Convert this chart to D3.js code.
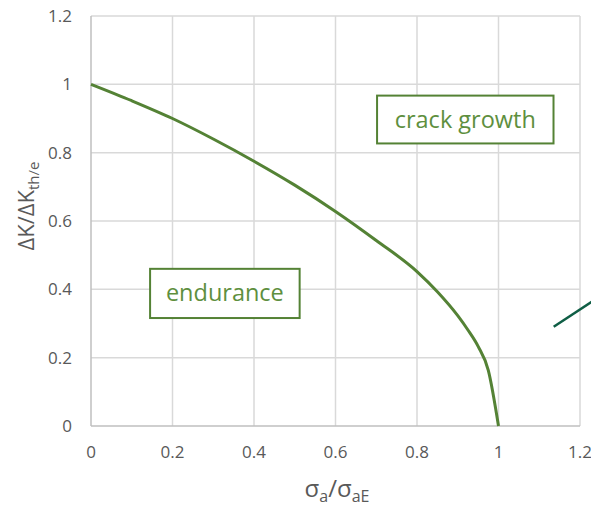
<!DOCTYPE html>
<html>
<head>
<meta charset="utf-8">
<script src="https://cdn.jsdelivr.net/npm/d3@7"></script>
<style>
  html, body { margin: 0; padding: 0; background: #ffffff; }
  svg { display: block; }
  text { font-family: "Open Sans", "Noto Sans", sans-serif; }
</style>
</head>
<body>
<svg id="chart" width="591" height="507"></svg>
<script>
// Normalised threshold curve: stress amplitude ratio vs. threshold ratio
const sigmaRatio = [0, 0.1, 0.2, 0.3, 0.4, 0.5, 0.6, 0.7, 0.8, 0.85, 0.9, 0.925, 0.95, 0.975, 1.0];
const deltaKRatio = [1.0, 0.952, 0.9, 0.84, 0.775, 0.705, 0.628, 0.543, 0.452, 0.393, 0.323, 0.281, 0.233, 0.163, 0.0];

// Axis ticks
const xTicks = [0, 0.2, 0.4, 0.6, 0.8, 1, 1.2];
const yTicks = [0, 0.2, 0.4, 0.6, 0.8, 1, 1.2];

// Region labels with their frame extents (data units)
const regionLabels = ["endurance", "crack growth"];
const regionX0 = [0.145, 0.702];
const regionX1 = [0.512, 1.135];
const regionY0 = [0.316, 0.827];
const regionY1 = [0.46, 0.967];

// Leader line partially visible at the right edge (data units)
const leaderX = [1.1355, 1.26];
const leaderY = [0.2906, 0.388];

const svg = d3.select("#chart");
const W = 591, H = 507;
const margin = { left: 91, right: 11, top: 16, bottom: 81 };

const x = d3.scaleLinear().domain([0, 1.2]).range([margin.left, W - margin.right]);
const y = d3.scaleLinear().domain([0, 1.2]).range([H - margin.bottom, margin.top]);

const green = "#548235";
const gridColor = "#d9d9d9";
const tickColor = "#595959";

// Gridlines
const grid = svg.append("g");
grid.selectAll("line.v").data(xTicks.filter(d => d > 0)).join("line")
  .attr("x1", d => x(d)).attr("x2", d => x(d))
  .attr("y1", y(0)).attr("y2", y(1.2))
  .attr("stroke", gridColor).attr("stroke-width", 1.5);
grid.selectAll("line.h").data(yTicks.filter(d => d > 0)).join("line")
  .attr("y1", d => y(d)).attr("y2", d => y(d))
  .attr("x1", x(0)).attr("x2", x(1.2))
  .attr("stroke", gridColor).attr("stroke-width", 1.5);

// Axis lines
svg.append("line").attr("x1", x(0)).attr("x2", x(0)).attr("y1", y(0)).attr("y2", y(1.2))
  .attr("stroke", "#bfbfbf").attr("stroke-width", 1.5);
svg.append("line").attr("x1", x(0)).attr("x2", x(1.2)).attr("y1", y(0)).attr("y2", y(0))
  .attr("stroke", "#bfbfbf").attr("stroke-width", 1.5);

// Tick labels
const fmt = d => d3.format("")(+d.toFixed(1));
svg.append("g").selectAll("text").data(xTicks).join("text")
  .attr("x", d => x(d)).attr("y", y(0) + 32)
  .attr("text-anchor", "middle")
  .attr("font-size", 17).attr("fill", tickColor)
  .text(fmt);
svg.append("g").selectAll("text").data(yTicks).join("text")
  .attr("x", x(0) - 19).attr("y", d => y(d) + 6)
  .attr("text-anchor", "end")
  .attr("font-size", 17).attr("fill", tickColor)
  .text(fmt);

// Axis titles
const xt = svg.append("text")
  .attr("x", 337).attr("y", 497)
  .attr("text-anchor", "middle")
  .attr("font-size", 24).attr("fill", tickColor);
xt.append("tspan").text("σ");
xt.append("tspan").attr("font-size", 16).attr("dy", 5).text("a");
xt.append("tspan").attr("dy", -5).text("/σ");
xt.append("tspan").attr("font-size", 16).attr("dy", 5).text("aE");

const yt = svg.append("text")
  .attr("transform", "translate(34,206) rotate(-90)")
  .attr("text-anchor", "middle")
  .attr("font-size", 22).attr("fill", tickColor);
yt.append("tspan").text("ΔK/ΔK");
yt.append("tspan").attr("font-size", 15).attr("dy", 5).text("th/e");

// Region frames and labels
const regions = regionLabels.map((t, i) => ({
  t, x0: regionX0[i], x1: regionX1[i], y0: regionY0[i], y1: regionY1[i]
}));
const rg = svg.append("g").selectAll("g").data(regions).join("g");
rg.append("rect")
  .attr("x", d => x(d.x0)).attr("y", d => y(d.y1))
  .attr("width", d => x(d.x1) - x(d.x0)).attr("height", d => y(d.y0) - y(d.y1))
  .attr("fill", "#ffffff").attr("stroke", green).attr("stroke-width", 2);
rg.append("text")
  .attr("x", d => (x(d.x0) + x(d.x1)) / 2)
  .attr("y", d => (y(d.y0) + y(d.y1)) / 2 + 8)
  .attr("text-anchor", "middle")
  .attr("font-size", 23.5).attr("fill", "#5e8f3e")
  .text(d => d.t);

// Threshold curve
const pts = sigmaRatio.map((s, i) => [s, deltaKRatio[i]]);
svg.append("path")
  .datum(pts)
  .attr("fill", "none")
  .attr("stroke", green).attr("stroke-width", 3)
  .attr("stroke-linejoin", "round")
  .attr("d", d3.line().x(d => x(d[0])).y(d => y(d[1])).curve(d3.curveMonotoneX));

// Leader line
svg.append("line")
  .attr("x1", x(leaderX[0])).attr("y1", y(leaderY[0]))
  .attr("x2", x(leaderX[1])).attr("y2", y(leaderY[1]))
  .attr("stroke", "#0f5e45").attr("stroke-width", 2.5);
</script>
</body>
</html>
